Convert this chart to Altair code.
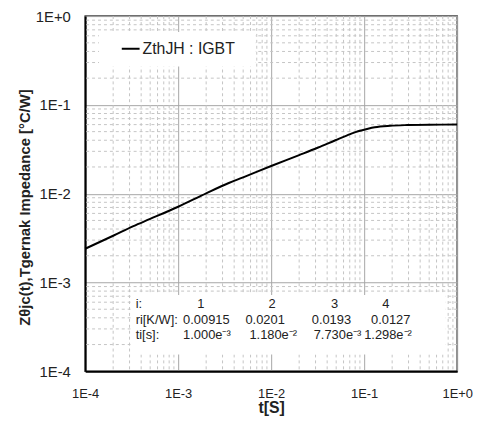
import altair as alt
import pandas as pd

# curve
t_vals = [1.0e-4, 2.0e-4, 3.3e-4, 5.0e-4, 1.0e-3, 2.0e-3, 3.5e-3, 5.0e-3, 1.0e-2, 2.0e-2,
          3.2e-2, 4.9e-2, 7.2e-2, 8.6e-2, 0.11, 0.13, 0.19, 0.29, 0.5, 1.0]
z_vals = [2.40e-3, 3.36e-3, 4.32e-3, 5.2e-3, 7.13e-3, 1.01e-2, 1.32e-2, 1.53e-2, 2.05e-2, 2.72e-2,
          3.31e-2, 4.00e-2, 4.72e-2, 5.05e-2, 5.40e-2, 5.60e-2, 5.82e-2, 5.93e-2, 5.99e-2, 6.00e-2]

decades = [1e-4, 1e-3, 1e-2, 1e-1, 1e0]
minor = [m * d for d in decades[:-1] for m in range(2, 10)]

legend_label = "ZthJH : IGBT"
row_heads = ["i:", "ri[K/W]:", "ti[s]:"]
idx_labels = ["1", "2", "3", "4"]
r_labels = ["0.00915", "0.0201", "0.0193", "0.0127"]
tau_labels = ["1.000e\u207b\u00b3", "1.180e\u207b\u00b2", "7.730e\u207b\u00b3", "1.298e\u207b\u00b2"]
x_title = "t[S]"
y_title = "Z\u03b8jc(t),Tgernak Impedance [\u00b0C/W]"

W, H = 376, 359
TOP = 6
LEFT = 78
FONT = "Liberation Sans"
TXT = "#222222"

xs = alt.Scale(type="log", domain=[1e-4, 1], nice=False)
ys = alt.Scale(type="log", domain=[1e-4, 1], nice=False)
lab_expr = "'1E' + (round(log(datum.value)/LN10) >= 0 ? '+' : '') + round(log(datum.value)/LN10)"

x_axis = alt.Axis(values=decades, labelExpr=lab_expr, grid=True, gridColor="#a6a6a6",
                  gridWidth=1, ticks=False, domainColor="black", domainWidth=2,
                  labelFont=FONT, labelFontSize=13, labelColor=TXT, labelPadding=16,
                  titleFont=FONT, titleFontSize=16, titleFontWeight="bold",
                  titleColor=TXT, titlePadding=0, labelFlush=False)
y_axis = alt.Axis(values=decades, labelExpr=lab_expr, grid=True, gridColor="#a6a6a6",
                  gridWidth=1, ticks=False, domainColor="black", domainWidth=2,
                  labelFont=FONT, labelFontSize=15, labelColor=TXT, labelPadding=15,
                  titleFont=FONT, titleFontSize=15, titleFontWeight="bold",
                  titleColor=TXT, titleX=25 - (8 + LEFT), titleY=207 - (8 + TOP), titleAngle=-90,
                  titleAlign="center", titleBaseline="middle", labelFlush=False)

df = pd.DataFrame({"t": t_vals, "z": z_vals})
one = pd.DataFrame({"a": [0]})

vgrid = alt.Chart(pd.DataFrame({"v": minor})).mark_rule(
    color="#c4c4c4", strokeWidth=1, strokeDash=[3, 3]
).encode(x=alt.X("v:Q", scale=xs, title=x_title, axis=x_axis))
hgrid = alt.Chart(pd.DataFrame({"v": minor})).mark_rule(
    color="#c4c4c4", strokeWidth=1, strokeDash=[3, 3]
).encode(y=alt.Y("v:Q", scale=ys, title=y_title, axis=y_axis))


def py(y):
    return y - (8 + TOP)


def px(x):
    return x - (8 + LEFT)


box_leg = alt.Chart(one).mark_rect(fill="white").encode(
    x=alt.value(px(100)), x2=alt.value(px(258)), y=alt.value(py(30)), y2=alt.value(py(65)))
box_tab = alt.Chart(one).mark_rect(fill="white").encode(
    x=alt.value(px(132)), x2=alt.value(px(450)), y=alt.value(py(296)), y2=alt.value(py(356)))

line = alt.Chart(df).mark_line(color="black", strokeWidth=2, interpolate="monotone").encode(
    x=alt.X("t:Q", scale=xs, title=x_title, axis=x_axis),
    y=alt.Y("z:Q", scale=ys, title=y_title, axis=y_axis),
)

leg_line = alt.Chart(one).mark_rule(color="black", strokeWidth=2).encode(
    x=alt.value(px(123)), x2=alt.value(px(141)), y=alt.value(py(47)))


def txt(s, x, y, align="left", size=13):
    return alt.Chart(one).mark_text(text=s, align=align, baseline="middle", font=FONT,
                                    fontSize=size, color=TXT).encode(
        x=alt.value(x), y=alt.value(y))


layers = [vgrid, hgrid, box_leg, box_tab, line, leg_line,
          txt(legend_label, px(144), py(47), size=16)]

row_y = [py(305), py(321), py(336)]
for s, y in zip(row_heads, row_y):
    layers.append(txt(s, px(137), y))
idx_x = [203, 275, 338, 390]
r_x = [185, 248, 315, 375]
t_x = [185, 252, 317, 368]
for s, x in zip(idx_labels, idx_x):
    layers.append(txt(s, px(x), row_y[0], align="center"))
for s, x in zip(r_labels, r_x):
    layers.append(txt(s, px(x), row_y[1]))
for s, x in zip(tau_labels, t_x):
    layers.append(txt(s, px(x), row_y[2]))

chart = alt.layer(*layers).properties(
    width=W, height=H,
    padding={"left": LEFT, "top": TOP, "right": 16, "bottom": 43},
    autosize=alt.AutoSizeParams(type="none"),
).configure_view(stroke="#404040", strokeWidth=1.5)

chart.save("out.html", embed_options={"renderer": "svg", "actions": False})
